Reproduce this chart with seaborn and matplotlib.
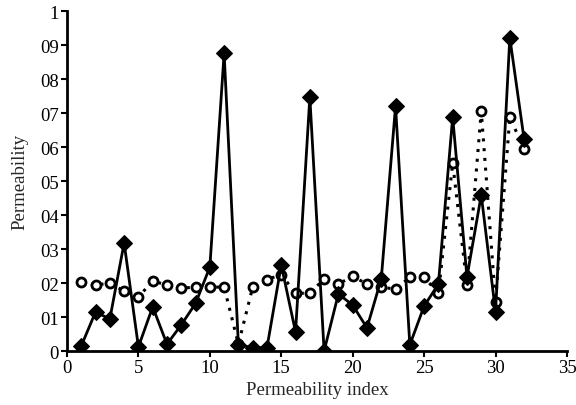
import matplotlib
matplotlib.use("Agg")
import matplotlib.pyplot as plt
import pandas as pd
import seaborn as sns

# permeability index 1..32
index = list(range(1, 33))

# solid series with filled diamonds
solid_vals = [0.015, 0.115, 0.094, 0.318, 0.012, 0.13, 0.02, 0.077, 0.14, 0.247,
              0.876, 0.018, 0.01, 0.01, 0.253, 0.056, 0.747, 0.0, 0.168, 0.135,
              0.068, 0.212, 0.72, 0.018, 0.132, 0.197, 0.688, 0.218, 0.459, 0.115,
              0.922, 0.623]

# dotted series with open circles
dotted_vals = [0.203, 0.194, 0.2, 0.176, 0.159, 0.206, 0.194, 0.185, 0.188, 0.188,
               0.188, 0.02, 0.188, 0.21, 0.225, 0.17, 0.17, 0.212, 0.197, 0.22,
               0.197, 0.188, 0.182, 0.217, 0.217, 0.17, 0.553, 0.194, 0.706, 0.145,
               0.688, 0.594]

y_ticks = [0, 0.1, 0.2, 0.3, 0.4, 0.5, 0.6, 0.7, 0.8, 0.9, 1.0]
y_tick_labels = ["0", "01", "02", "03", "04", "05", "06", "07", "08", "09", "1"]
x_ticks = [0, 5, 10, 15, 20, 25, 30, 35]

df = pd.DataFrame({"index": index, "solid": solid_vals, "dotted": dotted_vals})

sns.set_style("ticks")
plt.rcParams["font.family"] = ["Liberation Serif", "DejaVu Serif"]

fig = plt.figure(figsize=(5.76, 4.06), dpi=100)
ax = fig.add_axes([0.1163, 0.133, 0.868, 0.837])

sns.lineplot(data=df, x="index", y="dotted", ax=ax, color="black",
             linestyle=(0, (1, 2.2)), linewidth=2.2, marker="o", markersize=6.5,
             markerfacecolor="white", markeredgecolor="black", markeredgewidth=2)
sns.lineplot(data=df, x="index", y="solid", ax=ax, color="black",
             linewidth=2, marker="D", markersize=8.5,
             markerfacecolor="black", markeredgecolor="black")

ax.set_xlim(0, 35)
ax.set_ylim(0, 1)
ax.set_xticks(x_ticks)
ax.set_yticks(y_ticks)
ax.set_yticklabels(y_tick_labels)
ax.set_xlabel("Permeability index", fontsize=13.5, labelpad=3)
ax.set_ylabel("Permeability", fontsize=13.5, labelpad=8)
ax.tick_params(axis="both", labelsize=13.5, width=1.5, length=4, color="black",
               labelcolor="black", direction="out", pad=2)
for side in ["left", "bottom"]:
    ax.spines[side].set_linewidth(2)
    ax.spines[side].set_color("black")
sns.despine(ax=ax)

fig.savefig("out.png", dpi=100)
